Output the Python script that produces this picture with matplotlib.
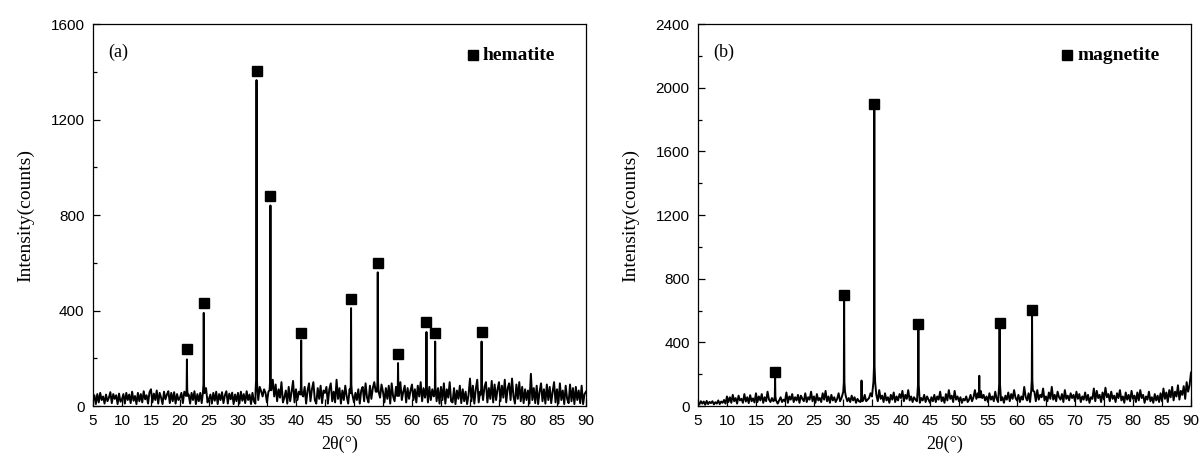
import matplotlib
matplotlib.use('Agg')
import matplotlib.pyplot as plt
import numpy as np

# background counts on a 0.25 degree grid from 5 to 90 (2-theta)
bg_step = 0.25
hem_bg = [
    20, 45, 8, 50, 15, 55, 25, 40, 10, 48, 20, 35, 58, 12, 50, 30, 45, 8, 52, 18,
    28, 50, 10, 55, 25, 48, 12, 60, 22, 42, 8, 55, 20, 50, 15, 62, 28, 45, 10, 58,
    70, 15, 52, 25, 65, 10, 55, 35, 8, 60, 28, 48, 62, 12, 55, 20, 58, 10, 50, 25,
    35, 55, 12, 60, 20, 70, 48, 10, 55, 25, 62, 8, 50, 20, 55, 12, 60, 30, 75, 15,
    30, 48, 10, 55, 22, 60, 8, 50, 25, 58, 12, 45, 62, 10, 52, 28, 56, 8, 48, 20,
    55, 10, 60, 22, 50, 12, 62, 25, 48, 8, 55, 20, 10, 58, 25, 80, 62, 40, 70, 55,
    15, 60, 75, 25, 110, 40, 90, 20, 70, 35, 100, 15, 35, 65, 10, 80, 20, 60, 105, 15,
    70, 25, 60, 90, 15, 40, 80, 10, 65, 95, 20, 70, 100, 25, 10, 75, 30, 85, 12, 65,
    55, 80, 10, 70, 95, 20, 60, 15, 110, 30, 75, 10, 65, 25, 85, 40, 10, 70, 20, 45,
    15, 55, 25, 70, 10, 65, 80, 20, 95, 35, 15, 85, 30, 75, 100, 60, 20, 70, 35, 90,
    60, 15, 75, 30, 85, 10, 95, 40, 20, 80, 12, 70, 100, 25, 60, 85, 15, 75, 30, 65,
    90, 25, 70, 15, 85, 40, 100, 20, 75, 35, 95, 15, 80, 25, 70, 40, 105, 20, 75, 10,
    80, 25, 95, 10, 70, 35, 100, 20, 15, 75, 8, 65, 30, 85, 12, 70, 20, 60, 8, 45,
    115, 20, 85, 10, 70, 110, 15, 60, 95, 25, 80, 100, 15, 75, 30, 105, 15, 90, 25, 70,
    100, 20, 85, 35, 110, 15, 75, 95, 25, 115, 40, 10, 90, 30, 100, 20, 80, 12, 70, 25,
    65, 10, 135, 25, 75, 12, 85, 8, 60, 95, 20, 70, 10, 90, 25, 80, 12, 60, 100, 15,
    70, 10, 95, 25, 65, 8, 85, 30, 12, 90, 20, 75, 8, 80, 25, 65, 12, 85, 8, 50,
    60,
]
mag_bg = [
    25, 10, 30, 15, 28, 8, 32, 12, 26, 18, 30, 10, 24, 15, 35, 12, 28, 20, 38, 15,
    60, 25, 55, 20, 70, 30, 50, 15, 65, 35, 45, 20, 75, 28, 55, 18, 68, 30, 48, 22,
    80, 25, 60, 35, 75, 20, 55, 30, 90, 40, 25, 50, 30, 20, 45, 15, 35, 55, 25, 40,
    30, 85, 20, 60, 40, 75, 25, 55, 35, 70, 20, 65, 45, 30, 80, 25, 55, 40, 90, 30,
    60, 20, 75, 35, 50, 25, 80, 40, 95, 30, 60, 20, 70, 35, 55, 25, 45, 80, 30, 50,
    40, 20, 60, 30, 50, 25, 65, 35, 55, 20, 45, 30, 25, 55, 35, 70, 30, 40, 50, 80,
    60, 90, 40, 70, 30, 100, 45, 65, 25, 80, 35, 55, 20, 70, 40, 85, 25, 60, 35, 75,
    50, 95, 30, 70, 45, 100, 35, 60, 25, 55, 40, 30, 65, 20, 50, 35, 70, 25, 60, 40,
    20, 55, 30, 70, 25, 60, 40, 90, 30, 55, 20, 75, 35, 100, 45, 65, 25, 95, 40, 60,
    30, 55, 20, 45, 35, 60, 25, 40, 70, 30, 55, 100, 45, 80, 30, 95, 50, 70, 35, 60,
    25, 80, 40, 60, 30, 90, 45, 25, 70, 35, 55, 20, 65, 40, 85, 30, 75, 45, 100, 50,
    35, 70, 25, 60, 40, 120, 55, 35, 80, 25, 65, 45, 90, 30, 100, 40, 70, 55, 110, 35,
    60, 30, 85, 45, 120, 40, 70, 30, 90, 55, 40, 75, 25, 100, 45, 65, 35, 80, 50, 70,
    30, 90, 45, 75, 25, 60, 40, 85, 35, 70, 20, 55, 45, 110, 30, 95, 50, 70, 25, 85,
    40, 115, 55, 75, 30, 90, 45, 65, 25, 80, 50, 100, 35, 60, 20, 85, 40, 70, 30, 95,
    45, 65, 25, 85, 35, 100, 50, 70, 20, 60, 40, 90, 30, 55, 20, 75, 35, 65, 25, 80,
    30, 110, 45, 85, 25, 100, 55, 120, 35, 90, 60, 130, 40, 95, 70, 125, 45, 150, 90, 130,
    210,
]

# diffraction peaks: position, top, base
hem_pos = [21.2, 24.1, 33.2, 35.6, 40.9, 49.5, 54.1, 57.6, 62.5, 64.0, 72.0]
hem_top = [195, 390, 1365, 840, 275, 410, 560, 180, 310, 270, 270]
hem_base = [70, 90, 120, 110, 80, 90, 100, 70, 90, 80, 80]
hem_mark = [240, 432, 1402, 880, 305, 450, 600, 218, 350, 305, 310]

mag_pos = [18.3, 30.2, 33.2, 35.4, 43.0, 53.5, 57.0, 62.6]
mag_top = [180, 680, 160, 1885, 490, 190, 500, 570]
mag_base = [60, 150, 50, 250, 140, 90, 150, 160]
mag_mark = [214, 699, None, 1900, 515, None, 523, 603]


def build_pattern(bg, pos, top, base):
    x = list(5 + bg_step * np.arange(len(bg)))
    y = list(bg)
    keep = [i for i in range(len(x)) if min(abs(x[i] - p) for p in pos) > 0.2]
    xs = [x[i] for i in keep]
    ys = [y[i] for i in keep]
    for p, t, b in zip(pos, top, base):
        xs += [p - 0.15, p - 0.05, p, p + 0.05, p + 0.15]
        ys += [b * 0.6, b, t, b, b * 0.6]
    order = np.argsort(xs)
    return np.array(xs)[order], np.array(ys)[order]


fig = plt.figure(figsize=(12.04, 4.61), dpi=100)
ax1 = fig.add_axes([0.0772, 0.1193, 0.4095, 0.8286])
ax2 = fig.add_axes([0.5797, 0.1193, 0.4095, 0.8286])

panels = [
    (ax1, hem_bg, hem_pos, hem_top, hem_base, hem_mark, 1600, '(a)', 'hematite', 0.77),
    (ax2, mag_bg, mag_pos, mag_top, mag_base, mag_mark, 2400, '(b)', 'magnetite', 0.749),
]

for ax, bg, pos, top, base, mark, ymax, tag, phase, lx in panels:
    x, y = build_pattern(bg, pos, top, base)
    ax.plot(x, y, color='black', lw=1.4)
    mx = [p for p, m in zip(pos, mark) if m is not None]
    my = [m for m in mark if m is not None]
    ax.plot(mx, my, 's', color='black', ms=6.5, ls='none')

    ax.set_xlim(5, 90)
    ax.set_ylim(0, ymax)
    ax.set_xticks(np.arange(5, 91, 5))
    ax.set_yticks(np.arange(0, ymax + 1, 400))
    ax.set_yticks(np.arange(0, ymax + 1, 200), minor=True)
    ax.tick_params(direction='in', length=5, width=0.9, labelsize=11, pad=6)
    ax.tick_params(which='minor', direction='in', length=3, width=0.9)
    for s in ax.spines.values():
        s.set_linewidth(0.9)
    for lbl in ax.get_xticklabels() + ax.get_yticklabels():
        lbl.set_family('Liberation Sans')

    ax.set_xlabel('2θ(°)', family='Liberation Serif', fontsize=13, labelpad=5)
    ax.set_ylabel('Intensity(counts)', family='Liberation Serif', fontsize=14, labelpad=12)

    ax.text(0.032, 0.925, tag, transform=ax.transAxes, family='Liberation Serif',
            fontsize=13, va='center', ha='left')
    ax.plot([lx], [0.918], 's', color='black', ms=6.5, transform=ax.transAxes)
    ax.text(lx + 0.02, 0.918, phase, transform=ax.transAxes, family='Liberation Serif',
            fontsize=14, fontweight='bold', va='center', ha='left')

fig.savefig('out.png', dpi=100)
